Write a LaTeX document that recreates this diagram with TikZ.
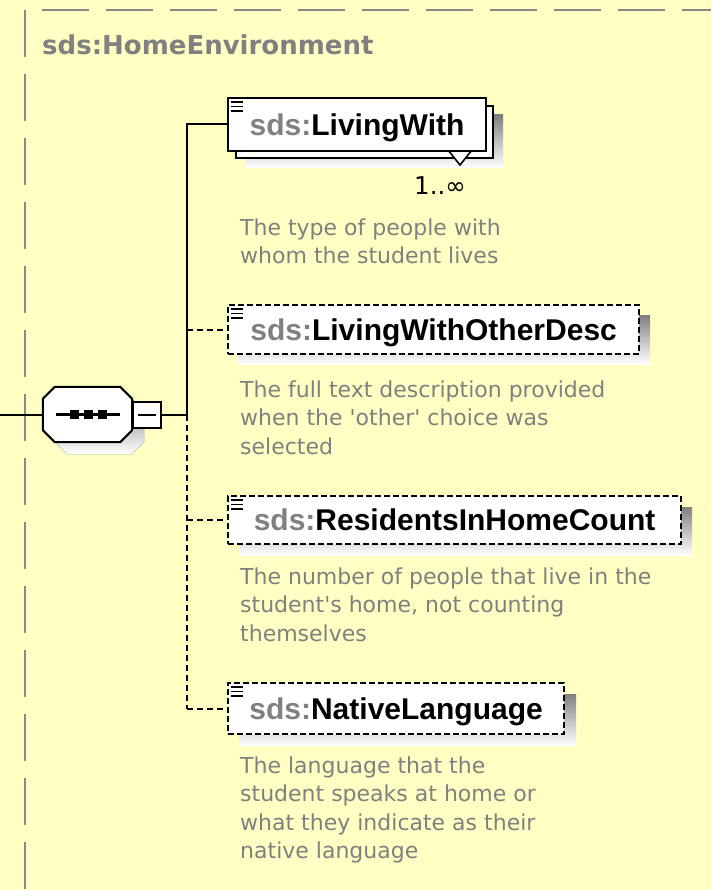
\documentclass[tikz,border=0pt]{standalone}
\usepackage{fontspec}
\setmainfont{DejaVu Sans}
\newfontfamily\arialf{Liberation Sans}
\definecolor{bg}{RGB}{255,255,196}
\definecolor{txtgray}{RGB}{128,128,128}
\definecolor{shade}{RGB}{192,192,192}
\definecolor{framegray}{RGB}{136,136,136}
\begin{document}
\begin{tikzpicture}[x=1pt,y=-1pt,
  elbox/.style={draw=black, line width=2pt, fill=white, inner sep=0pt, anchor=north west,
    font=\arialf\bfseries\fontsize{30}{36}\selectfont, text height=21.5pt, text depth=0pt},
  optbox/.style={elbox, line width=2.2pt, dash pattern=on 6pt off 3pt},
  desc/.style={anchor=north west, inner sep=0pt, align=left, text=txtgray,
    font=\fontsize{22}{28.5}\selectfont},
  conn/.style={line width=2pt},
  optconn/.style={line width=2.2pt, dash pattern=on 6pt off 4pt},
  elicon/.pic={\draw[line width=1.6pt] (4,5) -- (16,5) (4,9.5) -- (16,9.5) (4,14) -- (16,14);},
]
\fill[bg] (0,0) rectangle (711,890);
\useasboundingbox (0,0) rectangle (711,890);

% frame
\draw[framegray, line width=2.2pt, dash pattern=on 47pt off 17pt] (42,10) -- (711,10);
\draw[framegray, line width=2.2pt, dash pattern=on 47pt off 17pt] (25,10) -- (25,890);
\node[anchor=base west, inner sep=0pt, text=txtgray, font=\bfseries\fontsize{26}{30}\selectfont]
  (title) at (42,55) {sds:HomeEnvironment};

% sequence compositor
\node[minimum width=89pt, minimum height=55pt, inner sep=0pt] (seq) at (87.5,414.5) {};
\fill[shade] (67,399) -- (132,399) -- (144,411) -- (144,442) -- (132,454) -- (67,454) -- (55,442) -- (55,411) -- cycle;
\filldraw[fill=white, draw=black, line width=2pt] ([xshift=12pt]seq.north west) -- ([xshift=-12pt]seq.north east)
  -- ([yshift=-12pt]seq.north east) -- ([yshift=12pt]seq.south east)
  -- ([xshift=-12pt]seq.south east) -- ([xshift=12pt]seq.south west)
  -- ([yshift=12pt]seq.south west) -- ([yshift=-12pt]seq.north west) -- cycle;
\draw[line width=2.6pt] ([xshift=-32pt]seq.center) -- ([xshift=32pt]seq.center);
\foreach \dx in {-13,1,15} \fill ([xshift=\dx pt]seq.center) ++(-4.5,-4.5) rectangle ++(9,9);
\node[draw=black, fill=white, line width=2pt, minimum width=28pt, minimum height=26pt, inner sep=0pt]
  (minus) at (147,415) {};
\draw[line width=2pt] ([xshift=-9pt]minus.center) -- ([xshift=9pt]minus.center);

\coordinate (in) at (0,414.5);
\coordinate (J) at (187,415);
\draw[conn] (in) -- (seq.west);
\draw[conn] (minus.east) -- (J);

% LivingWith (1..inf)
\fill[shade] (245,115) rectangle (503,168);
\node[elbox, minimum width=257pt, minimum height=52pt] (lwback) at (235,105) {};
\filldraw[fill=white, draw=black, line width=1.6pt] (448,150) -- (472,150) -- (460,165) -- cycle;
\node[elbox, minimum width=258pt, minimum height=53pt] (lw) at (227,97) {\textcolor{txtgray}{sds:}LivingWith};
\pic at (lw.north west) {elicon};
\node[anchor=base west, inner sep=0pt, font=\fontsize{24.5}{28}\selectfont] (mult) at (414,195) {1..∞};
\node[desc] (lwd) at (240,218.3) {The type of people with\\whom the student lives};

% LivingWithOtherDesc
\fill[shade] (238,315) rectangle (650,364);
\node[optbox, minimum width=411pt, minimum height=49pt] (od) at (227,304) {\textcolor{txtgray}{sds:}LivingWithOtherDesc};
\pic at (od.north west) {elicon};
\node[desc] (odd) at (240,380.3) {The full text description provided\\when the \textquotesingle other\textquotesingle{} choice was\\selected};

% ResidentsInHomeCount
\fill[shade] (239,507) rectangle (692,555);
\node[optbox, minimum width=453pt, minimum height=48pt] (rc) at (227,495) {\textcolor{txtgray}{sds:}ResidentsInHomeCount};
\pic at (rc.north west) {elicon};
\node[desc] (rcd) at (240,567.3) {The number of people that live in the\\student\textquotesingle s home, not counting\\themselves};

% NativeLanguage
\fill[shade] (239,694) rectangle (576,745);
\node[optbox, minimum width=336pt, minimum height=51pt] (nl) at (227,682) {\textcolor{txtgray}{sds:}NativeLanguage};
\pic at (nl.north west) {elicon};
\node[desc] (nld) at (240,756.3) {The language that the\\student speaks at home or\\what they indicate as their\\native language};

% connectors
\draw[conn] (J) |- (lw.west);
\draw[optconn] (J) -- (J |- nl.west);
\draw[optconn] (J |- od.west) -- (od.west);
\draw[optconn] (J |- rc.west) -- (rc.west);
\draw[optconn] (J |- nl.west) -- (nl.west);
\end{tikzpicture}
\end{document}
